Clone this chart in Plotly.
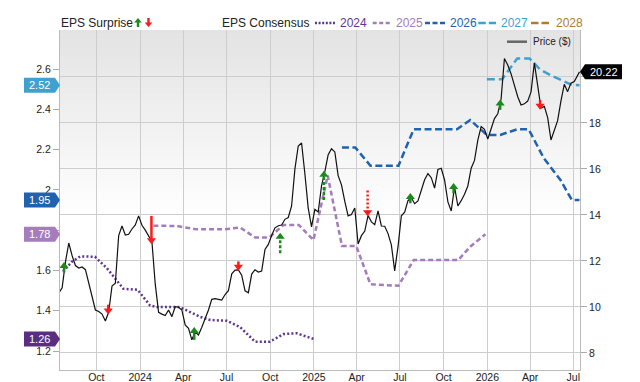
import plotly.graph_objects as go
import pandas as pd

FONT = "Liberation Sans, Arial, Helvetica, sans-serif"

# ---------------- data ----------------
price_weekly_start = "2023-07-21"  # Fridays
price_weekly = [
    10.83, 11.96, 12.78, 12.23, 11.80, 11.69, 11.74, 11.62, 11.07, 10.42,
    9.87, 9.80, 9.69, 9.39, 9.78, 10.91, 11.03, 13.10, 13.52, 13.13,
    13.16, 13.39, 13.57, 13.96, 13.55, 13.34, 13.10, 12.84, 10.99, 9.77,
    9.69, 9.63, 9.87, 9.58, 10.01, 9.99, 9.87, 9.22, 9.07, 8.57,
    8.91, 8.78, 9.12, 9.48, 9.87, 10.33, 10.36, 10.33, 10.30, 10.54,
    10.71, 11.44, 11.60, 11.61, 11.38, 10.70, 10.62, 11.43, 11.62, 11.52,
    11.56, 12.50, 12.72, 13.11, 13.44, 13.53, 13.56, 13.81, 13.89, 14.39,
    16.00, 17.00, 17.13, 15.78, 14.30, 13.48, 14.24, 14.13, 15.26, 15.88,
    16.62, 16.88, 16.74, 15.71, 15.31, 14.59, 13.96, 14.02, 14.30, 12.74,
    13.10, 13.30, 13.98, 13.70, 13.58, 14.18, 13.52, 13.51, 13.19, 12.70,
    11.57, 12.62, 13.96, 14.12, 14.62, 14.75, 14.49, 14.61, 15.04, 15.53,
    15.80, 15.62, 15.17, 15.98, 16.03, 15.52, 14.57, 14.17, 15.22, 14.39,
    14.62, 14.90, 15.26, 16.03, 16.37, 17.25, 17.84, 17.72, 17.30, 17.71,
    18.19, 18.40, 19.04, 20.80, 20.52, 20.13, 19.63, 19.14, 18.78, 18.83,
    18.95, 19.35, 20.61, 19.52, 18.65, 18.72, 18.23, 17.26, 17.71, 18.10,
    18.96, 19.68, 19.36, 19.73, 19.80, 20.07,
]
price_first = ("2023-07-14", 10.61)
price_last = ("2026-07-14", 20.22)

eps2024_dates = ["2023-07-23", "2023-08-10", "2023-08-28", "2023-09-28", "2023-10-23",
                 "2023-11-27", "2023-12-27", "2024-01-22", "2024-02-06", "2024-03-25",
                 "2024-05-06", "2024-05-28", "2024-07-02", "2024-07-30", "2024-08-30",
                 "2024-09-30", "2024-10-29", "2024-11-26", "2024-12-31"]
eps2024_values = [1.594, 1.642, 1.670, 1.668, 1.612, 1.509, 1.504, 1.426, 1.418, 1.418,
                  1.370, 1.354, 1.350, 1.318, 1.246, 1.246, 1.284, 1.288, 1.26]

eps2025_dates = ["2024-01-29", "2024-03-18", "2024-04-29", "2024-06-25", "2024-07-30",
                 "2024-08-30", "2024-09-29", "2024-10-29", "2024-11-30", "2024-12-31",
                 "2025-01-30", "2025-03-01", "2025-03-31", "2025-04-30", "2025-06-28",
                 "2025-07-30", "2025-11-01", "2025-11-26", "2025-12-28"]
eps2025_values = [1.822, 1.821, 1.804, 1.804, 1.813, 1.764, 1.764, 1.826, 1.826, 1.751,
                  2.071, 1.722, 1.722, 1.531, 1.524, 1.652, 1.652, 1.718, 1.78]

eps2026_dates = ["2025-03-01", "2025-03-29", "2025-04-30", "2025-06-28", "2025-07-30",
                 "2025-10-29", "2025-11-26", "2025-12-31", "2026-01-28", "2026-03-05",
                 "2026-03-29", "2026-04-30", "2026-06-04", "2026-06-28", "2026-07-14"]
eps2026_values = [2.211, 2.211, 2.120, 2.120, 2.301, 2.301, 2.347, 2.273, 2.273, 2.301,
                  2.301, 2.157, 2.049, 1.95, 1.95]

eps2027_dates = ["2025-12-31", "2026-02-01", "2026-03-05", "2026-03-31", "2026-04-22",
                 "2026-05-14", "2026-06-28", "2026-07-14"]
eps2027_values = [2.549, 2.549, 2.653, 2.653, 2.598, 2.570, 2.521, 2.52]

eps2028_dates = []
eps2028_values = []

surprise_dates = ["2023-07-25", "2023-10-26", "2024-01-25", "2024-04-24", "2024-07-26",
                  "2024-10-22", "2025-01-22", "2025-04-24", "2025-07-23", "2025-10-22",
                  "2026-01-28", "2026-04-22"]
surprise_tail = [11.50, 10.10, 13.96, 8.57, 11.98, 12.33, 14.65, 15.06, 14.51, 14.94, 18.57, 19.00]
surprise_head = [11.78, 9.85, 12.90, 8.95, 11.75, 13.05, 15.75, 14.12, 14.78, 15.22, 18.85, 18.75]
surprise_kind = ["beat", "miss", "miss", "beat", "miss", "beat", "beat", "miss", "beat", "beat", "beat", "miss"]
surprise_style = ["solid", "solid", "solid", "solid", "solid", "dash", "dash", "dot",
                  "solid", "solid", "solid", "solid"]

x_tick_vals = ["2023-10-01", "2024-01-01", "2024-04-01", "2024-07-01", "2024-10-01",
               "2025-01-01", "2025-04-01", "2025-07-01", "2025-10-01", "2026-01-01",
               "2026-04-01", "2026-07-01"]
x_tick_text = ["Oct", "2024", "Apr", "Jul", "Oct", "2025", "Apr", "Jul", "Oct", "2026", "Apr", "Jul"]
eps_tick_vals = [1.2, 1.4, 1.6, 1.8, 2.0, 2.2, 2.4, 2.6]
eps_tick_text = ["1.2", "1.4", "1.6", "", "2", "2.2", "2.4", "2.6"]
price_tick_vals = [8, 10, 12, 14, 16, 18, 20]
price_tick_text = ["8", "10", "12", "14", "16", "18", ""]

years = ["2024", "2025", "2026", "2027", "2028"]
year_colors = ["#5e3690", "#a47cbb", "#1f62b0", "#3fa1cf", "#b07b2c"]
year_dash = ["2px,2.2px", "5px,3px", "7px,3.5px", "8px,4px", "8px,4px"]
legend_dash = ["2px,1.6px", "4px,2.5px", "5px,2.5px", "7.5px,3px", "7.5px,3px"]

GREEN = "#1b8a1b"
RED = "#ff1a1a"

# ---------------- figure ----------------
price_dates = pd.date_range(price_weekly_start, periods=len(price_weekly), freq="7D")
px_dates = [pd.Timestamp(price_first[0])] + list(price_dates) + [pd.Timestamp(price_last[0])]
px_vals = [price_first[1]] + price_weekly + [price_last[1]]

fig = go.Figure()

eps_series = [(eps2024_dates, eps2024_values), (eps2025_dates, eps2025_values),
              (eps2026_dates, eps2026_values), (eps2027_dates, eps2027_values),
              (eps2028_dates, eps2028_values)]
for (d, v), col, dsh in zip(eps_series, year_colors, year_dash):
    if not d:
        continue
    fig.add_trace(go.Scatter(x=d, y=v, mode="lines", yaxis="y",
                             line=dict(color=col, width=2.5, dash=dsh), hoverinfo="skip"))

fig.add_trace(go.Scatter(x=px_dates, y=px_vals, mode="lines", yaxis="y2",
                         line=dict(color="#111111", width=1.2), hoverinfo="skip"))

style_map = {"solid": "solid", "dash": "3px,2px", "dot": "2px,2px"}
for d, t, h, k, s in zip(surprise_dates, surprise_tail, surprise_head, surprise_kind, surprise_style):
    col = GREEN if k == "beat" else RED
    fig.add_trace(go.Scatter(x=[d, d], y=[t, h], mode="lines", yaxis="y2",
                             line=dict(color=col, width=2.5, dash=style_map[s]), hoverinfo="skip"))
    fig.add_trace(go.Scatter(x=[d], y=[h], mode="markers", yaxis="y2",
                             marker=dict(symbol="triangle-up" if k == "beat" else "triangle-down",
                                         size=8, color=col, line=dict(width=0)),
                             hoverinfo="skip"))

# background gradient
n = 45
g_bottom = 0.45
for i in range(n):
    y1 = 1 - i * (1 - g_bottom) / n
    y0 = 1 - (i + 1) * (1 - g_bottom) / n - 0.002
    c = int(round(0xe3 + (0xff - 0xe3) * (i + 0.5) / n))
    fig.add_shape(type="rect", xref="paper", yref="paper", x0=0, x1=1, y0=y0, y1=y1,
                  fillcolor=f"rgb({c},{c},{c})", line_width=0, layer="below")

# left flags (last consensus values)
flag_src = [(eps2027_values, year_colors[3]), (eps2026_values, year_colors[2]),
            (eps2025_values, "#a57dbd"), (eps2024_values, "#5b2d80")]
for vals, col in flag_src:
    v = vals[-1]
    fig.add_shape(type="path", xref="paper", yref="y", xsizemode="pixel", ysizemode="pixel",
                  xanchor=0, yanchor=v,
                  path="M -36 -7.5 L -5 -7.5 L 0 0 L -5 7.5 L -36 7.5 Z",
                  fillcolor=col, line_width=0, layer="above")
    fig.add_annotation(x=0, xref="paper", y=v, yref="y", xshift=-21, text=f"{v:.2f}",
                       showarrow=False, font=dict(family=FONT, size=11, color="white"),
                       xanchor="center", yanchor="middle")

# right price flag
fig.add_shape(type="path", xref="paper", yref="y2", xsizemode="pixel", ysizemode="pixel",
              xanchor=1, yanchor=price_last[1],
              path="M 0 0 L 5 -7.5 L 42 -7.5 L 42 7.5 L 5 7.5 Z",
              fillcolor="#000000", line_width=0, layer="above")
fig.add_annotation(x=1, xref="paper", y=price_last[1], yref="y2", xshift=23.5,
                   text=f"{price_last[1]:.2f}", showarrow=False,
                   font=dict(family=FONT, size=11, color="white"), xanchor="center", yanchor="middle")

# top legend
W, H, L, T = 520.0, 340.0, 60.0, 30.0
def pxx(p):
    return (p - L) / W
def pxy(p):
    return (T + H - p) / H

leg_y = 23
fig.add_annotation(x=pxx(59), y=pxy(leg_y), xref="paper", yref="paper", text="EPS Surprise",
                   showarrow=False, xanchor="left", yanchor="middle",
                   font=dict(family=FONT, size=12, color="#222222"))
fig.add_shape(type="path", xref="paper", yref="paper", xsizemode="pixel", ysizemode="pixel",
              xanchor=pxx(138), yanchor=pxy(22.5),
              path="M -3.8 0 L 0 4.5 L 3.8 0 L 1.2 0 L 1.2 -4.5 L -1.2 -4.5 L -1.2 0 Z",
              fillcolor=GREEN, line_width=0)
fig.add_shape(type="path", xref="paper", yref="paper", xsizemode="pixel", ysizemode="pixel",
              xanchor=pxx(148.5), yanchor=pxy(22.5),
              path="M -3.8 0 L 0 -4.5 L 3.8 0 L 1.2 0 L 1.2 4.5 L -1.2 4.5 L -1.2 0 Z",
              fillcolor=RED, line_width=0)
fig.add_annotation(x=pxx(220), y=pxy(leg_y), xref="paper", yref="paper", text="EPS Consensus",
                   showarrow=False, xanchor="left", yanchor="middle",
                   font=dict(family=FONT, size=12, color="#222222"))
sample_x = [(315, 335), (372.7, 391.7), (425, 445), (478.3, 496), (531, 551)]
for (a, b), yr, col, dsh in zip(sample_x, years, year_colors, legend_dash):
    fig.add_shape(type="line", xref="paper", yref="paper", x0=pxx(a), x1=pxx(b),
                  y0=pxy(leg_y), y1=pxy(leg_y), line=dict(color=col, width=2.5, dash=dsh))
    fig.add_annotation(x=pxx(b + 2.5), y=pxy(leg_y), xref="paper", yref="paper", text=yr,
                       showarrow=False, xanchor="left", yanchor="middle",
                       font=dict(family=FONT, size=12, color=col))

# price legend
fig.add_shape(type="line", xref="paper", yref="paper", x0=pxx(507), x1=pxx(527),
              y0=pxy(41.7), y1=pxy(41.7), line=dict(color="#666666", width=2.5))
fig.add_annotation(x=pxx(531), y=pxy(41.7), xref="paper", yref="paper", text="Price ($)",
                   showarrow=False, xanchor="left", yanchor="middle",
                   font=dict(family=FONT, size=10, color="#222222"))

fig.update_layout(
    width=640, height=382, autosize=False,
    margin=dict(l=60, r=60, t=30, b=12, pad=0),
    paper_bgcolor="white", plot_bgcolor="white",
    showlegend=False,
    font=dict(family=FONT, size=10, color="#333333"),
    xaxis=dict(type="date", range=["2023-07-16 12:00", "2026-07-15 02:00"],
               tickvals=x_tick_vals, ticktext=x_tick_text, showgrid=True,
               gridcolor="#cdcdcd", gridwidth=1, showline=True, linecolor="#bbbbbb",
               ticks="", zeroline=False, automargin=False, ticklabelstandoff=-3,
               tickfont=dict(family=FONT, size=10.5, color="#222222")),
    yaxis=dict(range=[1.1057, 2.794], tickvals=eps_tick_vals, ticktext=eps_tick_text,
               showgrid=False, zeroline=False, showline=True, linecolor="#bbbbbb",
               ticks="outside", ticklen=6, tickcolor="#aaaaaa", automargin=False,
               tickfont=dict(family=FONT, size=10.5, color="#222222")),
    yaxis2=dict(range=[7.26, 22.04], overlaying="y", side="right",
                tickvals=price_tick_vals, ticktext=price_tick_text,
                showgrid=True, gridcolor="#cdcdcd", gridwidth=1, zeroline=False,
                showline=True, linecolor="#bbbbbb", ticks="outside", ticklen=6,
                tickcolor="#aaaaaa", automargin=False,
                tickfont=dict(family=FONT, size=10.5, color="#222222")),
)

fig.write_html("out.html")
